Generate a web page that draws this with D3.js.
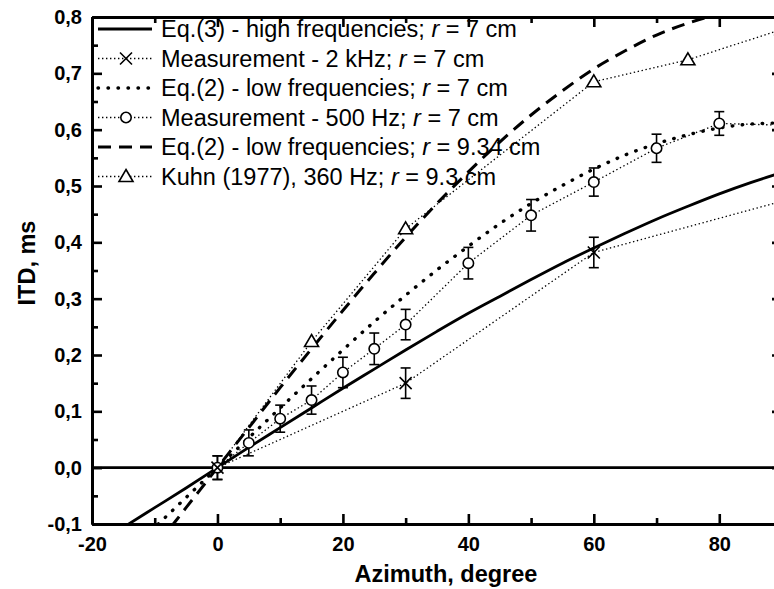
<!DOCTYPE html>
<html>
<head>
<meta charset="utf-8">
<script src="https://cdn.jsdelivr.net/npm/d3@7"></script>
<style>
  body { margin: 0; background: #fff; }
  svg { display: block; }
  text { font-family: "Liberation Sans", Arial, sans-serif; }
</style>
</head>
<body>
<div id="field"></div>
<script>
'use strict';

// theory curves, every 5 degrees
const curveAz = [-20, -15, -10, -5, 0, 5, 10, 15, 20, 25, 30, 35, 40, 45, 50, 55, 60, 65, 70, 75, 80, 85, 90];
const eq3High7 = [-0.141, -0.106, -0.071, -0.036, 0, 0.036, 0.071, 0.106, 0.141, 0.175, 0.209, 0.242, 0.274, 0.304, 0.334, 0.363, 0.390, 0.416, 0.441, 0.464, 0.486, 0.506, 0.524];
const eq2Low7 = [-0.209, -0.158, -0.106, -0.053, 0, 0.053, 0.106, 0.158, 0.209, 0.259, 0.306, 0.351, 0.393, 0.433, 0.469, 0.501, 0.530, 0.555, 0.575, 0.591, 0.603, 0.610, 0.612];
const eq2Low934 = [-0.279, -0.211, -0.142, -0.071, 0, 0.071, 0.142, 0.211, 0.279, 0.345, 0.409, 0.469, 0.525, 0.578, 0.626, 0.669, 0.708, 0.740, 0.768, 0.789, 0.805, 0.814, 0.817];

// measurements
const m2kAz = [0, 30, 60, 90];
const m2k = [0, 0.150, 0.382, 0.473];
const m2kErr = [0.021, 0.027, 0.027, 0.027];

const m500Az = [0, 5, 10, 15, 20, 25, 30, 40, 50, 60, 70, 80, 90];
const m500 = [0, 0.044, 0.087, 0.120, 0.169, 0.211, 0.254, 0.363, 0.448, 0.507, 0.567, 0.611, 0.608];
const m500Err = [0.021, 0.023, 0.024, 0.025, 0.027, 0.028, 0.027, 0.028, 0.028, 0.025, 0.025, 0.021, 0.021];

const kuhnAz = [0, 15, 30, 60, 75, 90];
const kuhn = [0, 0.224, 0.424, 0.685, 0.724, 0.778];

const xMajor = [-20, 0, 20, 40, 60, 80];
const xMinor = [-10, 10, 30, 50, 70, 90];
const yMajor = [-0.1, 0, 0.1, 0.2, 0.3, 0.4, 0.5, 0.6, 0.7, 0.8];
const yMinor = [-0.05, 0.05, 0.15, 0.25, 0.35, 0.45, 0.55, 0.65, 0.75];

const legendLabels = [
  ['Eq.(3) - high frequencies; ', '7 cm'],
  ['Measurement - 2 kHz; ', '7 cm'],
  ['Eq.(2) - low frequencies; ', '7 cm'],
  ['Measurement - 500 Hz; ', '7 cm'],
  ['Eq.(2) - low frequencies; ', '9.34 cm'],
  ['Kuhn (1977), 360 Hz; ', '9.3 cm']
];

const W = 774, H = 589;
const pLeft = 92, pRight = 782, pTop = 17, pBottom = 524;

const svg = d3.select('#field').append('svg').attr('width', W).attr('height', H);

const x = d3.scaleLinear().domain([-20, 90]).range([pLeft, pRight]);
const y = d3.scaleLinear().domain([-0.1, 0.8]).range([pBottom, pTop]);

svg.append('clipPath').attr('id', 'plot').append('rect')
  .attr('x', pLeft).attr('y', pTop).attr('width', pRight - pLeft).attr('height', pBottom - pTop);

const plot = svg.append('g').attr('clip-path', 'url(#plot)');

// zero line
plot.append('line').attr('x1', pLeft).attr('x2', pRight).attr('y1', y(0)).attr('y2', y(0))
  .attr('stroke', '#000').attr('stroke-width', 2.6);

const line = d3.line().x(d => x(d[0])).y(d => y(d[1])).curve(d3.curveMonotoneX);
const straight = d3.line().x(d => x(d[0])).y(d => y(d[1]));
const pairs = (xs, ys) => xs.map((v, i) => [v, ys[i]]);

const styles = {
  solid: { w: 2.8, dash: null, cap: 'butt' },
  bigDot: { w: 3.4, dash: '0.5 9.5', cap: 'round' },
  dash: { w: 3, dash: '13 8', cap: 'butt' },
  thinDot: { w: 1.3, dash: '1.4 2.6', cap: 'butt' }
};
function styled(sel, s) {
  sel.attr('fill', 'none').attr('stroke', '#000').attr('stroke-width', s.w)
    .attr('stroke-dasharray', s.dash).attr('stroke-linecap', s.cap);
  return sel;
}

styled(plot.append('path').attr('d', line(pairs(curveAz, eq3High7))), styles.solid);
styled(plot.append('path').attr('d', line(pairs(curveAz, eq2Low7))), styles.bigDot);
styled(plot.append('path').attr('d', line(pairs(curveAz, eq2Low934))), styles.dash);

styled(plot.append('path').attr('d', straight(pairs(m2kAz, m2k))), styles.thinDot);
styled(plot.append('path').attr('d', straight(pairs(m500Az, m500))), styles.thinDot);
styled(plot.append('path').attr('d', straight(pairs(kuhnAz, kuhn))), styles.thinDot);

// error bars
function errorBars(xs, ys, es) {
  const g = plot.append('g').attr('stroke', '#000').attr('stroke-width', 1.6);
  xs.forEach((v, i) => {
    const cx = x(v), y1 = y(ys[i] + es[i]), y2 = y(ys[i] - es[i]);
    g.append('line').attr('x1', cx).attr('x2', cx).attr('y1', y1).attr('y2', y2);
    g.append('line').attr('x1', cx - 5).attr('x2', cx + 5).attr('y1', y1).attr('y2', y1);
    g.append('line').attr('x1', cx - 5).attr('x2', cx + 5).attr('y1', y2).attr('y2', y2);
  });
}
errorBars(m500Az, m500, m500Err);
errorBars(m2kAz, m2k, m2kErr);

// markers
function circleMark(g, cx, cy) {
  g.append('circle').attr('cx', cx).attr('cy', cy).attr('r', 5.2)
    .attr('fill', '#fff').attr('stroke', '#000').attr('stroke-width', 1.6);
}
function crossMark(g, cx, cy) {
  g.append('path').attr('d', `M${cx - 6},${cy - 6}L${cx + 6},${cy + 6}M${cx - 6},${cy + 6}L${cx + 6},${cy - 6}`)
    .attr('stroke', '#000').attr('stroke-width', 1.6).attr('fill', 'none');
}
function triMark(g, cx, cy) {
  g.append('path').attr('d', `M${cx},${cy - 7}L${cx + 7},${cy + 5}L${cx - 7},${cy + 5}Z`)
    .attr('fill', '#fff').attr('stroke', '#000').attr('stroke-width', 1.6);
}

m500Az.forEach((v, i) => circleMark(plot, x(v), y(m500[i])));
m2kAz.forEach((v, i) => crossMark(plot, x(v), y(m2k[i])));
kuhnAz.forEach((v, i) => { if (v > 0) triMark(plot, x(v), y(kuhn[i])); });

// axes, ticks inward
const fmtY = d => d3.format('.1f')(d).replace('.', ',').replace('\u2212', '-');
const fmtX = d => d3.format('d')(d).replace('\u2212', '-');
const axisG = svg.append('g');
function drawAxis(axis, tr, labels) {
  const g = axisG.append('g').attr('transform', tr).call(axis);
  g.select('.domain').attr('stroke-width', 3);
  g.selectAll('.tick line').attr('stroke-width', 2.6);
  g.selectAll('text').attr('font-size', 20).attr('font-weight', 'bold')
    .attr('font-family', '"Liberation Sans", Arial, sans-serif').attr('fill', '#000');
  if (!labels) g.selectAll('text').remove();
  return g;
}
drawAxis(d3.axisBottom(x).tickValues(xMajor).tickSize(-10).tickSizeOuter(0).tickPadding(13).tickFormat(fmtX), `translate(0,${pBottom})`, true);
drawAxis(d3.axisBottom(x).tickValues(xMinor).tickSize(-6).tickSizeOuter(0), `translate(0,${pBottom})`, false);
drawAxis(d3.axisTop(x).tickValues(xMajor).tickSize(-10).tickSizeOuter(0), `translate(0,${pTop})`, false);
drawAxis(d3.axisTop(x).tickValues(xMinor).tickSize(-6).tickSizeOuter(0), `translate(0,${pTop})`, false);
drawAxis(d3.axisLeft(y).tickValues(yMajor).tickSize(-10).tickSizeOuter(0).tickPadding(10).tickFormat(fmtY), `translate(${pLeft},0)`, true);
drawAxis(d3.axisLeft(y).tickValues(yMinor).tickSize(-6).tickSizeOuter(0), `translate(${pLeft},0)`, false);
drawAxis(d3.axisRight(y).tickValues(yMajor).tickSize(-10).tickSizeOuter(0), `translate(${pRight},0)`, false);
drawAxis(d3.axisRight(y).tickValues(yMinor).tickSize(-6).tickSizeOuter(0), `translate(${pRight},0)`, false);

// axis titles
svg.append('text').attr('x', 446).attr('y', 582).attr('text-anchor', 'middle')
  .attr('font-size', 23.5).attr('font-weight', 'bold').text('Azimuth, degree');
svg.append('text').attr('transform', 'translate(35,263) rotate(-90)').attr('text-anchor', 'middle')
  .attr('font-size', 23.5).attr('font-weight', 'bold').text('ITD, ms');

// legend
const legendKinds = [
  { s: styles.solid, m: null },
  { s: styles.thinDot, m: crossMark },
  { s: styles.bigDot, m: null },
  { s: styles.thinDot, m: circleMark },
  { s: styles.dash, m: null },
  { s: styles.thinDot, m: triMark }
];
const leg = svg.append('g');
legendLabels.forEach((lab, i) => {
  const cy = 29 + i * 29.5;
  const k = legendKinds[i];
  styled(leg.append('line').attr('x1', 98).attr('x2', 152).attr('y1', cy).attr('y2', cy), k.s);
  if (k.m) k.m(leg, 126, cy);
  const t = leg.append('text').attr('x', 161).attr('y', cy).attr('dy', '0.36em').attr('font-size', 23.5);
  t.append('tspan').text(lab[0]);
  t.append('tspan').attr('font-style', 'italic').text('r');
  t.append('tspan').text(' = ' + lab[1]);
});
</script>
</body>
</html>
